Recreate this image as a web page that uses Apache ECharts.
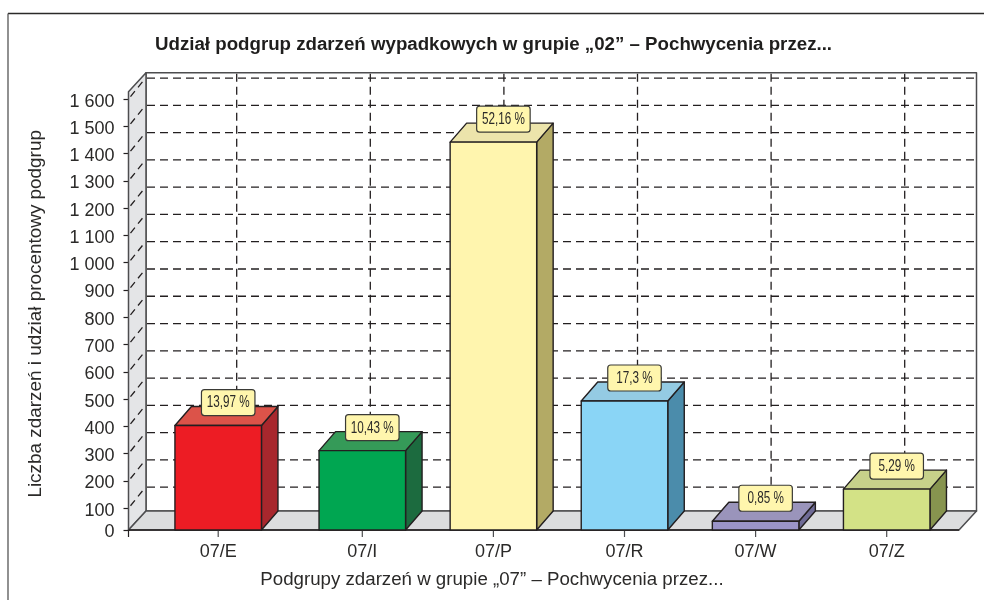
<!DOCTYPE html>
<html><head><meta charset="utf-8">
<style>html,body{margin:0;padding:0;background:#fff}#c{width:984px;height:600px}</style>
<script src="https://cdn.jsdelivr.net/npm/echarts@6/dist/echarts.min.js"></script>
</head><body><div id="c"></div>
<script>
const categories = ['07/E','07/I','07/P','07/R','07/W','07/Z'];
const counts = [403, 311, 1442, 493, 52, 170];
const shares = ['13,97 %','10,43 %','52,16 %','17,3 %','0,85 %','5,29 %'];
const faceColors = ['#ed1c24','#00a651','#fff5ae','#8ad5f6','#9b94c8','#d3e286'];
const topColors  = ['#dc5349','#359a58','#ece4ab','#94cbe3','#9a94bb','#c7d18a'];
const sideColors = ['#a8272d','#1c6b3f','#b3aa65','#4b8cab','#6f6b96','#87944f'];
const valueTicks = [100,200,300,400,500,600,700,800,900,1000,1100,1200,1300,1400,1500,1600];

// The source picture's first axis step is shorter than the others: the "0" tick sits
// where a regular scale would read about 20, so the value axis starts there.
const axisFloor = 20;
const axisCeil = 1627;
const ink = '#231f20', wallLine = '#4d4d4f', textColor = '#2b2a29';
const font = '"Liberation Sans", Arial, sans-serif';
const depthX = 17.5, depthY = -19, gridDepthY = -21;
const leftOverhang = 37.15, rightOverhang = 6.75;
const firstBarShift = -13;
const barRatio = 0.66;
const backGridFirst = 90.7, backGridStep = 133.6, backGridCount = 6;

function fmtTick(v){
  if (v === axisFloor) return '0';
  return v >= 1000 ? String(v).replace(/(\d)(\d{3})$/,'$1 $2') : String(v);
}
function line(x1,y1,x2,y2,stroke,lineWidth,dash){
  return {type:'line',shape:{x1,y1,x2,y2},silent:true,
    style:{stroke,lineWidth,lineDash:dash||null,fill:null}};
}
function poly(points,fill,stroke,lineWidth){
  return {type:'polygon',shape:{points},silent:true,style:{fill,stroke,lineWidth,lineJoin:'round'}};
}
function renderFrame(params, api){
  const cs = params.coordSys;
  const L = cs.x-leftOverhang, R = cs.x+cs.width+rightOverhang, T = cs.y, B = cs.y+cs.height;
  const backL = L+depthX, backR = R+depthX, backB = B+depthY, backT = T+depthY;
  const kids = [];
  kids.push(poly([[backL,backT],[backR,backT],[backR,backB],[backL,backB]],'#ffffff',wallLine,1.5));
  kids.push(poly([[L,T],[backL,backT],[backL,backB],[L,B]],'#e4e5e7',wallLine,1.5));
  kids.push(poly([[L,B],[backL,backB],[backR,backB],[R,B]],'#dcddde',wallLine,1.5));
  valueTicks.forEach(t=>{
    const y = api.coord([0,t])[1];
    kids.push(line(backL+1,y+gridDepthY,backR-1,y+gridDepthY,ink,1.3,[8,5]));
    kids.push(line(L+2,y-2.4,backL-0.5,y+gridDepthY,ink,1.3,[7,5]));
  });
  for(let i=0;i<backGridCount;i++){
    const x = backL+backGridFirst+i*backGridStep;
    kids.push(line(x,backT+1,x,backB-1,ink,1.3,[8,5]));
  }
  kids.push(line(L,B,R,B,ink,1.5));
  kids.push(line(L,B,L,B+7,ink,1.2));
  categories.forEach((c,i)=>{
    const x = api.coord([i,axisFloor])[0]+(i===0?firstBarShift:0);
    kids.push(line(x,B,x,B+7,wallLine,1.2));
  });
  return {type:'group',children:kids};
}
function renderBar(params, api){
  const i = api.value(0);
  const shift = i===0?firstBarShift:0;
  const top = api.coord([i,api.value(1)]);
  const base = api.coord([i,axisFloor]);
  const w = api.size([1,0])[0]*barRatio;
  const l = top[0]+shift-w/2, r = top[0]+shift+w/2, t = top[1], b = base[1];
  const cx = top[0]+shift+10, cy = t-23;
  const bw = 53.5, bh = 26;
  return {type:'group',children:[
    poly([[r,t],[r+depthX-1,t+depthY],[r+depthX-1,b+depthY],[r,b]],sideColors[i],ink,1.4),
    poly([[l,t],[l+depthX-1,t+depthY],[r+depthX-1,t+depthY],[r,t]],topColors[i],ink,1.4),
    poly([[l,t],[r,t],[r,b],[l,b]],faceColors[i],ink,1.4),
    {type:'rect',silent:true,shape:{x:cx-bw/2,y:cy-bh/2,width:bw,height:bh,r:3},
      style:{fill:'#fff6ad',stroke:'#3a3a36',lineWidth:1.2}},
    {type:'text',silent:true,x:cx,y:cy+0.5,scaleX:0.73,scaleY:1,
      style:{x:0,y:0,text:shares[i],align:'center',verticalAlign:'middle',
      fill:textColor,font:'16px "Liberation Sans", sans-serif'}}
  ]};
}
const chart = echarts.init(document.getElementById('c'),null,{renderer:'canvas'});
chart.setOption({
  animation:false,
  backgroundColor:'#ffffff',
  title:{text:'Udział podgrup zdarzeń wypadkowych w grupie „02” – Pochwycenia przez...',
    left:150,top:30,textStyle:{fontFamily:font,fontSize:18.7,fontWeight:'bold',color:'#1f1e1d'}},
  graphic:[
    {type:'line',silent:true,shape:{x1:8,y1:13.5,x2:984,y2:13.5},style:{stroke:'#2b2a29',lineWidth:1.3}},
    {type:'line',silent:true,shape:{x1:8,y1:13.5,x2:8,y2:600},style:{stroke:'#555555',lineWidth:1.3}}
  ],
  grid:{left:165.65,width:786.6,top:91.7,height:438.3,containLabel:false},
  xAxis:{type:'category',data:categories,
    axisLine:{show:false},axisTick:{show:false},splitLine:{show:false},
    axisLabel:{margin:13,fontFamily:font,fontSize:18,color:textColor,
      formatter:(v,i)=> i===0 ? '{first|'+v+'}' : v,
      rich:{first:{fontFamily:font,fontSize:18,color:textColor,padding:[0,26,0,0]}}},
    name:'Podgrupy zdarzeń w grupie „07” – Pochwycenia przez...',nameLocation:'middle',nameGap:40,
    nameTextStyle:{fontFamily:font,fontSize:18.7,color:textColor,padding:[0,134,0,0]}},
  yAxis:{type:'value',min:axisFloor,max:axisCeil,offset:leftOverhang,
    axisLine:{show:true,lineStyle:{color:wallLine,width:1.5}},
    axisTick:{show:true,length:5,customValues:[axisFloor].concat(valueTicks),lineStyle:{color:ink,width:1.2}},
    splitLine:{show:false},
    axisLabel:{margin:14,fontFamily:font,fontSize:18,color:textColor,verticalAlign:'top',lineHeight:5,
      customValues:[axisFloor].concat(valueTicks),formatter:fmtTick},
    name:'Liczba zdarzeń i udział procentowy podgrup',nameLocation:'middle',nameGap:83,
    nameTextStyle:{fontFamily:font,fontSize:18.9,color:textColor,padding:[0,6,0,0]}},
  series:[
    {type:'custom',z:1,clip:false,coordinateSystem:'cartesian2d',silent:true,
     renderItem:renderFrame,data:[[0,axisFloor]],encode:{x:0,y:1}},
    {type:'custom',z:2,clip:false,coordinateSystem:'cartesian2d',silent:true,
     renderItem:renderBar,data:counts.map((v,i)=>[i,v]),encode:{x:0,y:1}}
  ]
});
</script></body></html>
